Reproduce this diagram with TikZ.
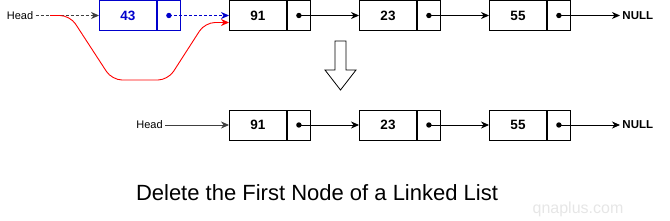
\documentclass[tikz,border=0pt]{standalone}
\usepackage{fontspec}
\setmainfont{Liberation Sans}
\usetikzlibrary{positioning,arrows.meta}

\definecolor{listblue}{RGB}{0,0,204}
\definecolor{wmark}{RGB}{230,230,230}

\tikzset{
	val/.style={draw, minimum width=57pt, minimum height=30pt, inner sep=0pt,
		font=\fontsize{13.5}{15}\selectfont\bfseries},
	ptr/.style={draw, minimum width=23pt, minimum height=30pt, inner sep=0pt},
	link/.style={-{Stealth[length=8pt,width=7pt,inset=2.5pt]}},
	lbl/.style={font=\fontsize{11}{13}\selectfont, inner sep=2pt},
	nul/.style={font=\fontsize{11.5}{13}\selectfont\bfseries, inner sep=2pt, anchor=west},
}

\begin{document}
\begin{tikzpicture}[x=1pt, y=-1pt, line width=0.9pt]
	\useasboundingbox (0,0) rectangle (670,221);

	% Draw list before deletion
	\node[val, draw=listblue, text=listblue] (t43) at (128,15.5) {43};
	\node[ptr, draw=listblue, right=0pt of t43] (t43p) {};
	\node[val] (t91) at (258,15.5) {91};
	\node[ptr, right=0pt of t91] (t91p) {};
	\node[val] (t23) at (388,15.5) {23};
	\node[ptr, right=0pt of t23] (t23p) {};
	\node[val] (t55) at (518,15.5) {55};
	\node[ptr, right=0pt of t55] (t55p) {};
	\node[lbl] (head1) at (20,15.5) {Head};
	\node[nul] (null1) at (620,15.5) {NULL};
	\coordinate (cut) at (50,15.5);

	% Draw links
	\draw[link, dash pattern=on 3pt off 2pt, black!75] (head1) -- (t43);
	\draw[link, dash pattern=on 3pt off 2pt, listblue] (t43p.center) -- (t91);
	\draw[link] (t91p.center) -- (t23);
	\draw[link] (t23p.center) -- (t55);
	\draw[link] (t55p.center) -- (null1);
	\fill[listblue] (t43p.center) circle (2.7pt);
	\fill (t91p.center) circle (2.7pt);
	\fill (t23p.center) circle (2.7pt);
	\fill (t55p.center) circle (2.7pt);

	% Draw new head link
	\draw[link, red, rounded corners=10pt] (cut) -- (70,15.5) -- (112,80)
		-- (168,80) -- (205,22.5) -- ([yshift=-7pt]t91.west);

	% Draw block arrow
	\draw[fill=white, line width=0.8pt] (335,41) -- (346,41) -- (346,70) -- (356,70)
		-- (340.5,90) -- (325,70) -- (335,70) -- cycle;

	% Draw list after deletion
	\node[val] (b91) at (258,125) {91};
	\node[ptr, right=0pt of b91] (b91p) {};
	\node[val] (b23) at (388,125) {23};
	\node[ptr, right=0pt of b23] (b23p) {};
	\node[val] (b55) at (518,125) {55};
	\node[ptr, right=0pt of b55] (b55p) {};
	\node[lbl] (head2) at (149.5,125) {Head};
	\node[nul] (null2) at (620,125) {NULL};

	\draw[link, black!75] (head2) -- (b91);
	\draw[link] (b91p.center) -- (b23);
	\draw[link] (b23p.center) -- (b55);
	\draw[link] (b55p.center) -- (null2);
	\fill (b91p.center) circle (2.7pt);
	\fill (b23p.center) circle (2.7pt);
	\fill (b55p.center) circle (2.7pt);

	% Draw caption
	\node[font=\fontsize{22}{26}\selectfont, anchor=base] (title) at (317,201)
		{Delete the First Node of a Linked List};
	\node[font=\fontsize{16}{18}\selectfont, text=wmark, anchor=base] (site) at (578,213.5)
		{qnaplus.com};
\end{tikzpicture}
\end{document}
